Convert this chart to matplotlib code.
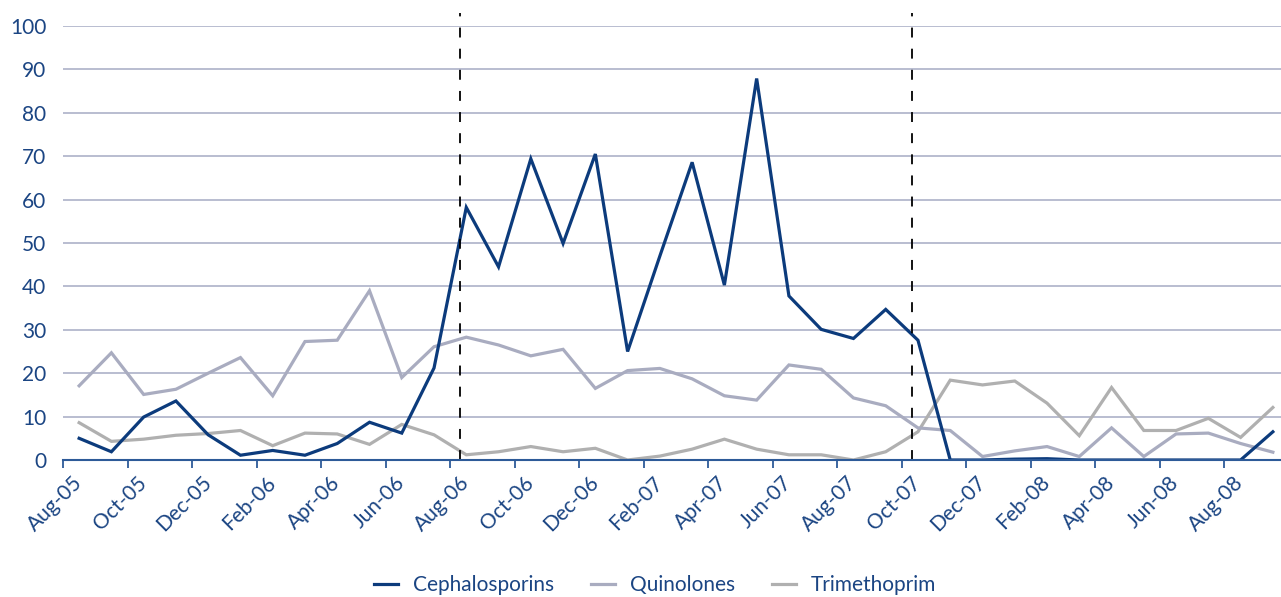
import matplotlib
matplotlib.use("Agg")
import matplotlib.pyplot as plt
import numpy as np

months = ["Aug-05","Sep-05","Oct-05","Nov-05","Dec-05","Jan-06","Feb-06","Mar-06","Apr-06","May-06",
          "Jun-06","Jul-06","Aug-06","Sep-06","Oct-06","Nov-06","Dec-06","Jan-07","Feb-07","Mar-07",
          "Apr-07","May-07","Jun-07","Jul-07","Aug-07","Sep-07","Oct-07","Nov-07","Dec-07","Jan-08",
          "Feb-08","Mar-08","Apr-08","May-08","Jun-08","Jul-08","Aug-08","Sep-08"]

cephalosporins = [5.0, 1.9, 9.9, 13.6, 5.8, 1.1, 2.2, 1.1, 3.8, 8.7,
                  6.2, 21.2, 58.2, 44.5, 69.4, 49.9, 70.5, 25.0, 47.0, 68.6,
                  40.3, 87.9, 37.8, 30.1, 28.0, 34.7, 27.6, 0.0, 0.0, 0.2,
                  0.3, 0.0, 0.0, 0.0, 0.0, 0.0, 0.0, 6.5]
quinolones = [17.1, 24.7, 15.1, 16.3, 20.0, 23.6, 14.8, 27.3, 27.6, 39.0,
              19.0, 26.1, 28.3, 26.5, 24.0, 25.5, 16.5, 20.6, 21.1, 18.7,
              14.8, 13.8, 21.9, 20.9, 14.3, 12.5, 7.4, 6.8, 0.8, 2.1,
              3.1, 0.8, 7.4, 0.8, 6.0, 6.2, 3.8, 1.8]
trimethoprim = [8.6, 4.3, 4.8, 5.7, 6.1, 6.8, 3.3, 6.2, 6.0, 3.6,
                8.2, 5.8, 1.2, 1.9, 3.1, 1.9, 2.7, 0.0, 0.9, 2.5,
                4.8, 2.5, 1.2, 1.2, 0.0, 1.9, 6.5, 18.4, 17.3, 18.2,
                13.1, 5.6, 16.7, 6.8, 6.8, 9.6, 5.2, 12.1]
series_names = ["Cephalosporins", "Quinolones", "Trimethoprim"]
series_colors = ["#0c3b7c", "#a9acc0", "#b0b0b0"]
marker_lines = [11.8, 25.8]  # dashed vertical lines (category positions)
yticks = [0, 10, 20, 30, 40, 50, 60, 70, 80, 90, 100]

text_color = "#1b4583"
FONT = "Lato"
plt.rcParams['font.family'] = [FONT, 'DejaVu Sans']

W, H = 1281, 597
fig = plt.figure(figsize=(W/100, H/100), dpi=100)
left_px, right_px, top_px, bottom_px = 63, 1289, 26, 460
ax = fig.add_axes([left_px/W, 1 - bottom_px/H, (right_px-left_px)/W, (bottom_px-top_px)/H])

x = np.arange(len(months))
order = [2, 1, 0]
for k in order:
    data = [cephalosporins, quinolones, trimethoprim][k]
    ax.plot(x, data, color=series_colors[k], lw=2.3, label=series_names[k],
            zorder=3 + (1 if k == 0 else 0), solid_joinstyle='miter')

for m in marker_lines:
    ax.plot([m, m], [0, 103], color="black", lw=1.3, dashes=(5.5, 6.2), clip_on=False, zorder=5)

ax.set_xlim(-0.5, len(months) - 0.5)
ax.set_ylim(0, 100)
ax.set_yticks(yticks)
ax.set_yticklabels([str(v) for v in yticks], color=text_color, fontsize=15)
ax.yaxis.grid(True, color="#b9bdd0", lw=1.4)
ax.set_axisbelow(True)
ax.tick_params(axis='y', length=0, pad=12)

# x labels at every second category center; tick marks at category boundaries
lab_idx = list(range(0, len(months), 2))
ax.set_xticks(lab_idx)
ax.set_xticklabels([months[i] for i in lab_idx], rotation=45, ha='right', va='center',
                   rotation_mode='anchor', color=text_color, fontsize=15)
ax.tick_params(axis='x', which='major', length=0, pad=14)
ax.set_xticks([i - 0.5 for i in lab_idx], minor=True)
ax.tick_params(axis='x', which='minor', length=6, width=1.3, color="#2d5a98", direction='out')

for s in ['top', 'right', 'left']:
    ax.spines[s].set_visible(False)
ax.spines['bottom'].set_color("#2d5a98")
ax.spines['bottom'].set_linewidth(1.5)
ax.spines['bottom'].set_zorder(6)

handles, labels = ax.get_legend_handles_labels()
hmap = dict(zip(labels, handles))
leg = fig.legend([hmap[n] for n in series_names], series_names, loc='center',
                 bbox_to_anchor=(655/W, 1 - 585/H), ncol=3, frameon=False,
                 fontsize=15, handlelength=1.15, columnspacing=1.78, handletextpad=0.72)
for t in leg.get_texts():
    t.set_color(text_color)

fig.savefig("out.png", dpi=100)
